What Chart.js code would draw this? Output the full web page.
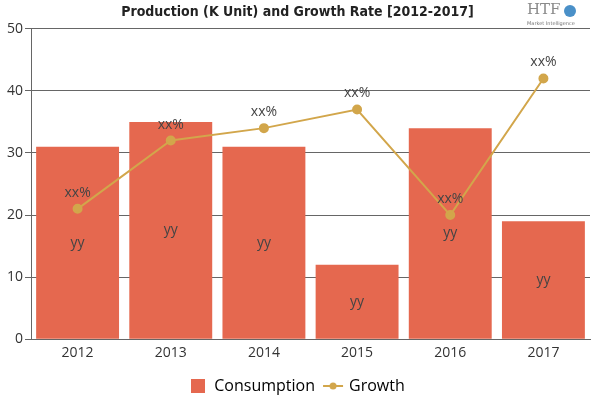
<!DOCTYPE html>
<html>
<head>
<meta charset="utf-8">
<script src="https://cdn.jsdelivr.net/npm/chart.js@4"></script>
<style>
  html, body { margin: 0; padding: 0; background: #fff; }
  #wrap { width: 600px; height: 400px; }
</style>
</head>
<body>
<div id="wrap"><canvas id="myChart"></canvas></div>
<script>
let years = ["2012", "2013", "2014", "2015", "2016", "2017"];
let consumption = [31, 35, 31, 12, 34, 19];
let growth = [21, 32, 34, 37, 20, 42];
let barLabels = ["yy", "yy", "yy", "yy", "yy", "yy"];
let pointLabels = ["xx%", "xx%", "xx%", "xx%", "xx%", "xx%"];
let yTicks = [0, 10, 20, 30, 40, 50];

const barColor = '#E5684F';
const lineColor = '#D2A64B';

// legend marker for the line: short line with a dot
const lineMark = document.createElement('canvas');
lineMark.width = 22; lineMark.height = 10;
(function() {
  let c = lineMark.getContext('2d');
  c.strokeStyle = lineColor; c.fillStyle = lineColor; c.lineWidth = 2;
  c.beginPath(); c.moveTo(1, 5); c.lineTo(21, 5); c.stroke();
  c.beginPath(); c.arc(11, 5, 3.5, 0, Math.PI * 2); c.fill();
})();
const boxMark = document.createElement('canvas');
boxMark.width = 14; boxMark.height = 16;
(function() {
  let c = boxMark.getContext('2d');
  c.fillStyle = barColor; c.fillRect(0, 1, 14, 14);
})();

// draws the yy / xx% labels and the logo text
const labelPlugin = {
  id: 'labels',
  afterDatasetsDraw(chart) {
    const ctx = chart.ctx;
    ctx.save();
    ctx.font = '14px "Open Sans", sans-serif';
    ctx.fillStyle = '#444';
    ctx.textAlign = 'center';
    ctx.textBaseline = 'middle';
    chart.getDatasetMeta(0).data.forEach(function(bar, i) {
      ctx.fillText(barLabels[i], bar.x, (bar.y + bar.base) / 2);
    });
    chart.getDatasetMeta(1).data.forEach(function(pt, i) {
      ctx.fillText(pointLabels[i], pt.x, pt.y - 16);
    });
    // logo
    ctx.fillStyle = '#8a8a8a';
    ctx.font = '15px "DejaVu Serif", serif';
    ctx.textAlign = 'left';
    ctx.fillText('HTF', 527, 10);
    ctx.fillStyle = '#4a90c8';
    ctx.beginPath();
    ctx.arc(570, 11, 6, 0, Math.PI * 2);
    ctx.fill();
    ctx.fillStyle = '#777';
    ctx.font = '5px "DejaVu Sans", sans-serif';
    ctx.fillText('Market Intelligence', 527, 24);
    ctx.restore();
  }
};

new Chart(document.getElementById("myChart"), {
  type: 'bar',
  data: {
    labels: years,
    datasets: [{
      label: 'Consumption',
      backgroundColor: barColor,
      data: consumption,
      categoryPercentage: 0.89,
      barPercentage: 1,
      order: 2
    }, {
      type: 'line',
      label: 'Growth',
      borderColor: lineColor,
      backgroundColor: lineColor,
      borderWidth: 2,
      pointRadius: 4,
      pointHoverRadius: 4,
      data: growth,
      order: 1
    }]
  },
  plugins: [labelPlugin],
  options: {
    responsive: true,
    maintainAspectRatio: false,
    animation: false,
    layout: { padding: { left: 5, right: 10, top: 0, bottom: -4 } },
    plugins: {
      title: {
        display: true,
        text: 'Production (K Unit) and Growth Rate [2012-2017]',
        font: { family: '"DejaVu Sans Condensed", sans-serif', size: 14, weight: 'bold' },
        color: '#222',
        padding: { top: 4, bottom: 8 }
      },
      legend: {
        position: 'bottom',
        labels: {
          usePointStyle: true,
          color: '#333',
          font: { family: '"Open Sans", sans-serif', size: 16 },
          padding: 10,
          generateLabels: function(chart) {
            return [{
              text: 'Consumption', pointStyle: boxMark, datasetIndex: 0,
              fillStyle: barColor, strokeStyle: barColor, lineWidth: 0
            }, {
              text: 'Growth', pointStyle: lineMark, datasetIndex: 1,
              fillStyle: lineColor, strokeStyle: lineColor, lineWidth: 0
            }];
          }
        }
      },
      tooltip: { enabled: false }
    },
    scales: {
      x: {
        grid: { display: false, drawTicks: false },
        border: { color: '#666' },
        ticks: { color: '#333', padding: 5, font: { family: '"Open Sans", sans-serif', size: 14 } },
        afterFit: function(axis) { axis.height += 2; }
      },
      y: {
        min: 0,
        max: 50,
        afterBuildTicks: function(axis) {
          axis.ticks = yTicks.map(function(v) { return { value: v }; });
        },
        grid: { color: '#666', tickLength: 6 },
        border: { color: '#666' },
        ticks: { color: '#333', font: { family: '"Open Sans", sans-serif', size: 14 }, padding: 2 }
      }
    }
  }
});
</script>
</body>
</html>
